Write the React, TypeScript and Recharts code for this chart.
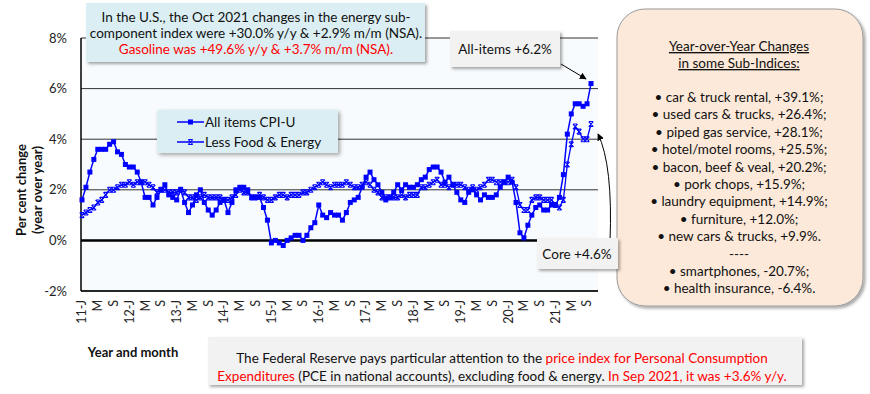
import React from 'react';
import {
  LineChart,
  Line,
  XAxis,
  YAxis,
  CartesianGrid,
  ReferenceLine,
  Legend,
} from 'recharts';

// Jan 2011 .. Oct 2021, year-over-year % change
const years = ['11', '12', '13', '14', '15', '16', '17', '18', '19', '20', '21'];
const monthCodes = ['J', 'F', 'M', 'A', 'M', 'J', 'J', 'A', 'S', 'O', 'N', 'D'];
const monthCount = 130;

const allItemsCpi = [
  1.6, 2.1, 2.7, 3.2, 3.6, 3.6, 3.6, 3.8, 3.9, 3.5, 3.4, 3.0,
  2.9, 2.9, 2.7, 2.3, 1.7, 1.7, 1.4, 1.7, 2.0, 2.2, 1.8, 1.7,
  1.6, 2.0, 1.5, 1.1, 1.4, 1.8, 2.0, 1.5, 1.2, 1.0, 1.2, 1.5,
  1.6, 1.1, 1.5, 2.0, 2.1, 2.1, 2.0, 1.7, 1.7, 1.7, 1.3, 0.8,
  -0.1, 0.0, -0.1, -0.2, 0.0, 0.1, 0.2, 0.2, 0.0, 0.2, 0.5, 0.7,
  1.4, 1.0, 0.9, 1.1, 1.0, 1.0, 0.8, 1.1, 1.5, 1.6, 1.7, 2.1,
  2.5, 2.7, 2.4, 2.2, 1.9, 1.6, 1.7, 1.9, 2.2, 2.0, 2.2, 2.1,
  2.1, 2.2, 2.4, 2.5, 2.8, 2.9, 2.9, 2.7, 2.3, 2.5, 2.2, 1.9,
  1.6, 1.5, 1.9, 2.0, 1.8, 1.6, 1.8, 1.7, 1.7, 1.8, 2.1, 2.3,
  2.5, 2.3, 1.5, 0.3, 0.1, 0.6, 1.0, 1.3, 1.4, 1.2, 1.2, 1.4,
  1.4, 1.7, 2.6, 4.2, 5.0, 5.4, 5.4, 5.3, 5.4, 6.2,
];

const lessFoodEnergy = [
  1.0, 1.1, 1.2, 1.3, 1.5, 1.6, 1.8, 2.0, 2.0, 2.1, 2.2, 2.2,
  2.3, 2.2, 2.3, 2.3, 2.3, 2.2, 2.1, 1.9, 2.0, 2.0, 1.9, 1.9,
  1.9, 2.0, 1.9, 1.7, 1.7, 1.6, 1.7, 1.8, 1.7, 1.7, 1.7, 1.7,
  1.6, 1.6, 1.7, 1.8, 2.0, 1.9, 1.9, 1.7, 1.7, 1.8, 1.7, 1.6,
  1.6, 1.7, 1.8, 1.8, 1.7, 1.8, 1.8, 1.8, 1.9, 1.9, 2.0, 2.1,
  2.2, 2.3, 2.2, 2.1, 2.2, 2.2, 2.2, 2.3, 2.2, 2.1, 2.1, 2.2,
  2.3, 2.2, 2.0, 1.9, 1.7, 1.7, 1.7, 1.7, 1.7, 1.8, 1.7, 1.8,
  1.8, 1.8, 2.1, 2.1, 2.2, 2.3, 2.4, 2.2, 2.2, 2.1, 2.2, 2.2,
  2.2, 2.1, 2.0, 2.1, 2.0, 2.1, 2.2, 2.4, 2.4, 2.3, 2.3, 2.3,
  2.3, 2.4, 2.1, 1.4, 1.2, 1.2, 1.6, 1.7, 1.7, 1.6, 1.6, 1.6,
  1.4, 1.3, 1.6, 3.0, 3.8, 4.5, 4.3, 4.0, 4.0, 4.6,
];

const yTicks = [-2, 0, 2, 4, 6, 8];

const subIndices = [
  '• car & truck rental, +39.1%;',
  '• used cars & trucks, +26.4%;',
  '• piped gas service, +28.1%;',
  '• hotel/motel rooms, +25.5%;',
  '• bacon, beef & veal, +20.2%;',
  '• pork chops, +15.9%;',
  '• laundry equipment, +14.9%;',
  '• furniture, +12.0%;',
  '• new cars & trucks, +9.9%.',
  '----',
  '• smartphones, -20.7%;',
  '• health insurance, -6.4%.',
];

const categories = years
  .flatMap((yy) => monthCodes.map((m, i) => ({ yy, m, i })))
  .slice(0, monthCount);

const data = categories.map((c, idx) => ({
  month: `${c.yy}-${c.i}`,
  all: allItemsCpi[idx],
  core: lessFoodEnergy[idx],
}));

const FONT = 'Lato, "Open Sans", sans-serif';
const BLUE = '#0000ff';
const RED = '#ff0000';

const monthLabel = (v: string) => {
  const [yy, i] = v.split('-');
  if (i === '0') return `${yy}-J`;
  return monthCodes[Number(i)];
};

const XTick = ({ x, y, payload }: any) => (
  <text
    x={x}
    y={y}
    transform={`rotate(-90, ${x}, ${y})`}
    textAnchor="end"
    dy="0.35em"
    fontFamily={FONT}
    fontSize={12.5}
    fill="#222"
  >
    {monthLabel(payload.value)}
  </text>
);

const SquareDot = ({ cx, cy }: any) => (
  <rect x={cx - 2.5} y={cy - 2.5} width={5} height={5} fill={BLUE} />
);

const CrossDot = ({ cx, cy }: any) => (
  <path
    d={`M${cx - 2.3},${cy - 2.5}L${cx + 2.3},${cy + 2.5}M${cx + 2.3},${cy - 2.5}L${cx - 2.3},${cy + 2.5}M${cx - 2},${cy - 2.5}H${cx + 2}M${cx - 2},${cy + 2.5}H${cx + 2}`}
    stroke={BLUE}
    strokeWidth={1.1}
    fill="none"
  />
);

const LegendBox = () => (
  <div
    style={{
      width: 181,
      height: 43,
      background: '#daeef3',
      boxShadow: '2px 2px 4px rgba(0,0,0,0.35)',
      fontFamily: FONT,
      fontSize: 13.5,
      color: '#111',
      boxSizing: 'border-box',
      paddingTop: 2,
    }}
  >
    {[
      { name: 'All items CPI-U', Dot: SquareDot },
      { name: 'Less Food & Energy', Dot: CrossDot },
    ].map(({ name, Dot }) => (
      <div key={name} style={{ display: 'flex', alignItems: 'center', height: 20, paddingLeft: 20 }}>
        <svg width={27} height={10}>
          <line x1={0} y1={5} x2={27} y2={5} stroke={BLUE} strokeWidth={1.5} />
          <Dot cx={13.5} cy={5} />
        </svg>
        <span style={{ marginLeft: 1 }}>{name}</span>
      </div>
    ))}
  </div>
);

const Overlay = () => (
  <svg
    width={870}
    height={394}
    style={{ position: 'absolute', left: 0, top: 0, pointerEvents: 'none' }}
    fontFamily={FONT}
  >
    <defs>
      <filter id="sh" x="-10%" y="-10%" width="130%" height="140%">
        <feDropShadow dx="2" dy="2" stdDeviation="1.8" floodColor="#000" floodOpacity="0.35" />
      </filter>
      <marker id="ah" viewBox="0 0 10 10" refX="9" refY="5" markerWidth="7" markerHeight="7" orient="auto">
        <path d="M0,0L10,5L0,10z" fill="#000" />
      </marker>
    </defs>

    {/* y-axis title */}
    <g transform="rotate(-90, 30, 190)" fontWeight="bold" fontSize={13} fill="#111" textAnchor="middle">
      <text x={30} y={186}>Per cent change</text>
      <text x={30} y={202}>(year over year)</text>
    </g>
    <text x={133} y={357} fontWeight="bold" fontSize={13} fill="#111" textAnchor="middle">
      Year and month
    </text>

    {/* top note */}
    <rect x={86} y={3} width={339} height={59} fill="#daeef3" filter="url(#sh)" />
    <g fontSize={13.5} textAnchor="middle" fill="#111">
      <text x={256} y={22}>In the U.S., the Oct 2021 changes in the energy sub-</text>
      <text x={256} y={38}>component index were +30.0% y/y &amp; +2.9% m/m (NSA).</text>
      <text x={256} y={54} fill={RED}>Gasoline was +49.6% y/y &amp; +3.7% m/m (NSA).</text>
    </g>

    {/* All-items callout */}
    <rect x={450} y={31} width={110} height={36} fill="#f2f2f2" filter="url(#sh)" />
    <text x={505} y={54} fontSize={13.5} textAnchor="middle" fill="#111">All-items +6.2%</text>
    <path d="M561,64 L586,79" stroke="#000" strokeWidth={1} markerEnd="url(#ah)" />

    {/* sub-index panel */}
    <rect x={617} y={9} width={246} height={297} rx={28} ry={28} fill="#fde9d9" stroke="#9a9a9a" filter="url(#sh)" />
    <g fontSize={13.5} textAnchor="middle" fill="#111">
      <text x={739} y={51} textDecoration="underline">Year-over-Year Changes</text>
      <text x={739} y={68} textDecoration="underline">in some Sub-Indices:</text>
      {subIndices.map((s, i) => (
        <text key={i} x={739} y={102 + i * 17.4}>{s}</text>
      ))}
    </g>

    {/* Core callout */}
    <path d="M610,242 Q613,165 598,134" stroke="#000" strokeWidth={1} fill="none" markerEnd="url(#ah)" />
    <rect x={537} y={238} width={81} height={31} fill="#f2f2f2" filter="url(#sh)" />
    <text x={577} y={259} fontSize={13.5} textAnchor="middle" fill="#111">Core +4.6%</text>

    {/* PCE note */}
    <rect x={208} y={337} width={594} height={48} fill="#f2f2f2" filter="url(#sh)" />
    <g fontSize={13.5} textAnchor="middle" fill="#111">
      <text x={502} y={363}>
        The Federal Reserve pays particular attention to the{' '}
        <tspan fill={RED}>price index for Personal Consumption</tspan>
      </text>
      <text x={502} y={381}>
        <tspan fill={RED}>Expenditures</tspan> (PCE in national accounts), excluding food &amp; energy.{' '}
        <tspan fill={RED}>In Sep 2021, it was +3.6% y/y.</tspan>
      </text>
    </g>
  </svg>
);

const App = () => (
  <div style={{ position: 'absolute', left: 0, top: 0, width: 870, height: 394, background: '#fff' }}>
    <LineChart
      width={870}
      height={394}
      data={data}
      margin={{ top: 38, right: 272, left: 21, bottom: 63 }}
    >
      <CartesianGrid vertical={false} stroke="#333" strokeWidth={1} fill="#f8fbfd" />
      <XAxis
        dataKey="month"
        interval={3}
        tick={<XTick />}
        tickLine={false}
        tickSize={0}
        tickMargin={9}
        height={40}
        padding={{ left: 1, right: 7 }}
        axisLine={{ stroke: '#000', strokeWidth: 1.5 }}
      />
      <YAxis
        domain={[-2, 8]}
        ticks={yTicks}
        tickFormatter={(v) => `${v}%`}
        tick={{ fontFamily: FONT, fontSize: 13, fill: '#222' }}
        tickLine={false}
        tickSize={0}
        tickMargin={14}
        width={60}
        axisLine={{ stroke: '#000', strokeWidth: 1.5 }}
      />
      <YAxis
        yAxisId="frame"
        orientation="right"
        domain={[-2, 8]}
        tick={false}
        tickLine={false}
        width={0}
        axisLine={{ stroke: '#000', strokeWidth: 1.5 }}
      />
      <ReferenceLine y={0} stroke="#000" strokeWidth={2.5} />
      <Legend
        layout="vertical"
        align="center"
        verticalAlign="middle"
        content={<LegendBox />}
        wrapperStyle={{ left: 157, top: 110, width: 181, height: 43 }}
      />
      <Line
        dataKey="core"
        name="Less Food & Energy"
        stroke={BLUE}
        strokeWidth={1.3}
        dot={<CrossDot />}
        isAnimationActive={false}
      />
      <Line
        dataKey="all"
        name="All items CPI-U"
        stroke={BLUE}
        strokeWidth={1.5}
        dot={<SquareDot />}
        isAnimationActive={false}
      />
    </LineChart>
    <Overlay />
  </div>
);

export default App;
